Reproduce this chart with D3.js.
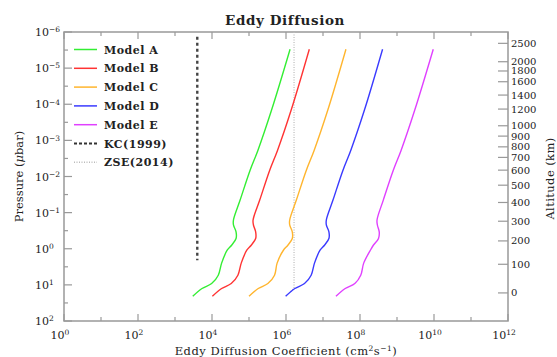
<!DOCTYPE html>
<html>
<head>
<meta charset="utf-8">
<script src="https://cdn.jsdelivr.net/npm/d3@7"></script>
<style>
  body { margin: 0; background: #fff; }
  svg text { font-family: "DejaVu Serif", "Liberation Serif", serif; fill: #222; }
</style>
</head>
<body>
<svg id="chart" width="557" height="357"></svg>
<script>
// pressure levels (µbar) shared by the model profiles
const pressure = [20.7, 12.6, 9.2, 5.4, 2.5, 1.1, 0.8, 0.52, 0.34, 0.22, 0.16, 0.045, 6.7e-3, 1.9e-3, 1.45e-4, 3.0e-6]

// log10 of the eddy coefficient (cm^2 s^-1) for each model, at the levels above
const modelA = [3.48, 3.73, 3.99, 4.17, 4.26, 4.41, 4.53, 4.65, 4.65, 4.58, 4.58, 4.76, 5.03, 5.24, 5.61, 6.11]
const modelB = [4.01, 4.26, 4.52, 4.70, 4.79, 4.94, 5.06, 5.18, 5.18, 5.12, 5.11, 5.29, 5.56, 5.77, 6.14, 6.63]
const modelC = [5.00, 5.25, 5.51, 5.69, 5.76, 5.93, 6.05, 6.17, 6.17, 6.10, 6.10, 6.28, 6.55, 6.76, 7.13, 7.62]
const modelD = [5.99, 6.24, 6.50, 6.68, 6.77, 6.92, 7.04, 7.16, 7.16, 7.09, 7.09, 7.27, 7.54, 7.75, 8.12, 8.61]
const modelE = [7.35, 7.60, 7.86, 8.02, 8.10, 8.28, 8.36, 8.50, 8.52, 8.47, 8.46, 8.63, 8.90, 9.11, 9.48, 9.98]

const modelNames = ["Model A", "Model B", "Model C", "Model D", "Model E"]
const modelColors = ["#33ee33", "#ff3333", "#ffb52e", "#3a3aff", "#e040ff"]

// reference profiles
const kcK = [4e3, 4e3]
const kcP = [1.35e-6, 2.07]
const zseK = [1.65e6, 1.65e6, 1.28e6]
const zseP = [1e-6, 12.4, 16]

// altitude axis (km) and the pressure each tick sits at
const altitudeKm = [2500, 2000, 1800, 1600, 1400, 1200, 1000, 900, 800, 700, 600, 500, 400, 300, 200, 100, 0]
const altitudeP = [2.06e-6, 6.65e-6, 1.2e-5, 2.38e-5, 5.57e-5, 1.36e-4, 3.94e-4, 7.62e-4, 1.51e-3, 2.96e-3, 6.67e-3, 0.0174, 0.0524, 0.173, 0.607, 2.69, 16.7]

const xExp = [0, 2, 4, 6, 8, 10, 12]
const yExp = [-6, -5, -4, -3, -2, -1, 0, 1, 2]

const plotL = 64, plotR = 508, plotT = 32, plotB = 321
const svg = d3.select("#chart")

const x = d3.scaleLog().domain([1, 1e12]).range([plotL, plotR])
const y = d3.scaleLog().domain([1e-6, 1e2]).range([plotT, plotB])

const axisColor = "#999"

// frame
svg.append("rect")
    .attr("x", plotL).attr("y", plotT)
    .attr("width", plotR - plotL).attr("height", plotB - plotT)
    .attr("fill", "none").attr("stroke", axisColor).attr("stroke-width", 1.5)

// x ticks, bottom and top, pointing in
const xTicks = d3.range(0, 13)
for (const edge of [plotB, plotT]) {
    const dir = edge === plotB ? -1 : 1
    svg.append("g").selectAll("line")
        .data(xTicks)
        .join("line")
        .attr("x1", (d) => x(10 ** d)).attr("x2", (d) => x(10 ** d))
        .attr("y1", edge).attr("y2", (d) => edge + dir * (d % 2 === 0 ? 7 : 4))
        .attr("stroke", axisColor).attr("stroke-width", 1.2)
}

const xLab = svg.append("g").selectAll("text")
    .data(xExp)
    .join("text")
    .attr("x", (d) => x(10 ** d) - 4)
    .attr("y", 339)
    .attr("text-anchor", "middle")
    .attr("font-size", 11)
xLab.append("tspan").text("10")
xLab.append("tspan").attr("dy", "-0.5em").attr("font-size", 7.5).text((d) => d)

// y ticks on the left
const yTicks = d3.range(-6, 2.01, 0.5)
svg.append("g").selectAll("line")
    .data(yTicks)
    .join("line")
    .attr("x1", plotL).attr("x2", (d) => plotL + (Number.isInteger(d) ? 8 : 4))
    .attr("y1", (d) => y(10 ** d)).attr("y2", (d) => y(10 ** d))
    .attr("stroke", axisColor).attr("stroke-width", 1.2)

const yLab = svg.append("g").selectAll("text")
    .data(yExp)
    .join("text")
    .attr("x", 35)
    .attr("y", (d) => y(10 ** d) + 4)
    .attr("font-size", 11)
yLab.append("tspan").text("10")
yLab.append("tspan").attr("dy", "-0.5em").attr("font-size", 7.5).text((d) => d < 0 ? "\u2212" + (-d) : d)

// altitude axis on the right
svg.append("g").selectAll("line")
    .data(altitudeP)
    .join("line")
    .attr("x1", plotR - 10).attr("x2", plotR)
    .attr("y1", (d) => y(d)).attr("y2", (d) => y(d))
    .attr("stroke", axisColor).attr("stroke-width", 1.2)

svg.append("g").selectAll("text")
    .data(altitudeKm)
    .join("text")
    .attr("x", 511)
    .attr("y", (d, i) => y(altitudeP[i]) + 3.5)
    .attr("font-size", 10)
    .text((d) => d)

// titles
svg.append("text")
    .attr("x", 285).attr("y", 25)
    .attr("text-anchor", "middle")
    .attr("font-size", 13.5).attr("font-weight", "bold")
    .attr("letter-spacing", 0.6)
    .text("Eddy Diffusion")

const xTitle = svg.append("text")
    .attr("x", 286).attr("y", 355)
    .attr("text-anchor", "middle")
    .attr("font-size", 11.5)
    .attr("letter-spacing", 0.5)
xTitle.append("tspan").text("Eddy Diffusion Coefficient (cm")
xTitle.append("tspan").attr("dy", -4).attr("font-size", 7.5).text("2")
xTitle.append("tspan").attr("dy", 4).text("s")
xTitle.append("tspan").attr("dy", -4).attr("font-size", 7.5).text("\u22121")
xTitle.append("tspan").attr("dy", 4).text(")")

const yTitle = svg.append("text")
    .attr("transform", `translate(23, ${(plotT + plotB) / 2}) rotate(-90)`)
    .attr("text-anchor", "middle")
    .attr("font-size", 11.5)
yTitle.append("tspan").text("Pressure (")
yTitle.append("tspan").attr("font-style", "italic").text("\u03bc")
yTitle.append("tspan").text("bar)")

svg.append("text")
    .attr("transform", `translate(554, ${(plotT + plotB) / 2 + 2}) rotate(-90)`)
    .attr("text-anchor", "middle")
    .attr("font-size", 11.5)
    .attr("letter-spacing", 0.4)
    .text("Altitude (km)")

// reference lines
svg.append("path")
    .datum(kcK.map((k, i) => [k, kcP[i]]))
    .attr("fill", "none").attr("stroke", "#444").attr("stroke-width", 2.4)
    .attr("stroke-dasharray", "3,3")
    .attr("d", d3.line().x((d) => x(d[0])).y((d) => y(d[1])))

svg.append("path")
    .datum(zseK.map((k, i) => [k, zseP[i]]))
    .attr("fill", "none").attr("stroke", "#bbb").attr("stroke-width", 1.2)
    .attr("stroke-dasharray", "1,1.5")
    .attr("d", d3.line().x((d) => x(d[0])).y((d) => y(d[1])))

// model profiles
const models = [modelA, modelB, modelC, modelD, modelE]
const line = d3.line()
    .curve(d3.curveCatmullRom.alpha(0.5))
    .x((d) => x(10 ** d[0]))
    .y((d) => y(d[1]))

svg.append("g").selectAll("path")
    .data(models)
    .join("path")
    .attr("fill", "none")
    .attr("stroke", (d, i) => modelColors[i])
    .attr("stroke-width", 1.4)
    .attr("d", (d) => line(d.map((k, j) => [k, pressure[j]])))

// legend
const legendNames = [...modelNames, "KC(1999)", "ZSE(2014)"]
const legend = svg.append("g").selectAll("g")
    .data(legendNames)
    .join("g")
    .attr("transform", (d, i) => `translate(74, ${49.5 + i * 18.8})`)

legend.append("line")
    .attr("x1", 0).attr("x2", 23)
    .attr("stroke", (d, i) => i < 5 ? modelColors[i] : i === 5 ? "#333" : "#bbb")
    .attr("stroke-width", (d, i) => i === 5 ? 2 : 1.5)
    .attr("stroke-dasharray", (d, i) => i === 5 ? "3,2" : i === 6 ? "1,1.5" : null)

legend.append("text")
    .attr("x", 30).attr("y", 4)
    .attr("font-size", 11).attr("font-weight", "bold")
    .attr("letter-spacing", 0.5)
    .text((d) => d)
</script>
</body>
</html>
